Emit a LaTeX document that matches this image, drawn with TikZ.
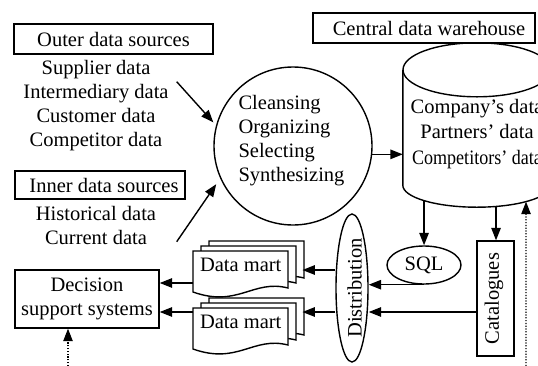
\documentclass[tikz,border=0pt]{standalone}
\usepackage{fontspec}
\setmainfont{Liberation Serif}
\usetikzlibrary{arrows.meta,shapes.geometric,calc}

\tikzset{
  txt/.style={font=\fontsize{20.5}{24}\selectfont, inner sep=0pt},
  line/.style={line width=1.4pt},
  tip/.style={-{Triangle[length=12.5pt,width=9.5pt]}},
  arr/.style={line width=1.4pt, tip},
  dotarr/.style={line width=1.1pt, dash pattern=on 1.2pt off 1.6pt, tip},
  box/.style={txt, draw, line width=1.4pt, rectangle},
  docsheet/.pic={
    \draw[line, fill=white] (0,0) -- (95,0) -- (95,37)
      .. controls (60,28) and (45,57) .. (0,41) -- cycle;
  },
}

\begin{document}
\begin{tikzpicture}[x=1pt,y=-1pt]
\useasboundingbox (0,0) rectangle (538,365);
\clip (0,0) rectangle (538,365);

% data sources
\node[box, minimum width=199pt, minimum height=30pt] (outer) at (113.5,39) {Outer data sources};
\node[txt, align=center] (outerlist) at (96,106) {Supplier data\\Intermediary data\\Customer data\\Competitor data};
\node[box, minimum width=170pt, minimum height=28pt] (inner) at (100,185) {\hspace*{8pt}Inner data sources};
\node[txt, align=center] (innerlist) at (96,225) {Historical data\\Current data};
\coordinate (src1) at (176.7,81.7);
\coordinate (src2) at (176.7,241.7);

% processing circle
\node[draw, circle, line width=1.4pt, minimum size=158pt, inner sep=0pt] (proc) at (293,146) {};
\node[txt, align=left] (proctxt) at (291.5,141) {Cleansing\\Organizing\\Selecting\\Synthesizing};

% central data warehouse
\node[box, minimum width=222pt, minimum height=30pt] (cdw) at (424,28) {\hspace*{10pt}Central data warehouse};
\node[minimum width=148pt, minimum height=115pt, inner sep=0pt] (dw) at (477,127.5) {};
\coordinate (tc) at (dw.north);
\coordinate (bc) at (dw.south);
\draw[line] (tc) ellipse [x radius=74pt, y radius=27pt];
\draw[line] (dw.north west) -- (dw.south west)
  arc[start angle=180, end angle=360, x radius=74pt, y radius=22pt] -- (dw.north east);
\node[txt, align=center, font=\fontsize{20.5}{25.5}\selectfont] (dwtxt) at (477,134)
  {Company's data\\Partners' data\\\scalebox{0.88}[1]{Competitors' data}};
\coordinate (b1) at ($(bc)+(224.3:74pt and 22pt)$);
\coordinate (b2) at ($(bc)+(284.9:74pt and 22pt)$);
\coordinate (b3) at ($(bc)+(311.5:74pt and 22pt)$);

% SQL and catalogues
\node[txt, draw, ellipse, line width=1.4pt, minimum width=74pt, minimum height=38pt] (sql) at (424,265) {SQL};
\node[box, minimum width=37pt, minimum height=115pt] (cat) at (495.5,298.5) {\rotatebox{90}{Catalogues}\hspace*{3pt}};

% distribution
\node[txt, draw, ellipse, line width=1.4pt, minimum width=32pt, minimum height=148pt] (dist) at (352,288) {\hspace*{5pt}\rotatebox{90}{Distribution}};

% data marts
\coordinate (s1) at (193,251);
\coordinate (s2) at (193,308);
\pic at ($(s1)+(16,-10)$) {docsheet};
\pic at ($(s1)+(8,-5)$) {docsheet};
\pic at (s1) {docsheet};
\pic at ($(s2)+(16,-10)$) {docsheet};
\pic at ($(s2)+(8,-5)$) {docsheet};
\pic at (s2) {docsheet};
\node[txt, minimum width=95pt, minimum height=28pt, anchor=north west] (dm1) at (s1) {Data mart};
\node[txt, minimum width=95pt, minimum height=28pt, anchor=north west] (dm2) at (s2) {Data mart};

% decision support
\node[box, minimum width=144pt, minimum height=58pt, align=center] (dss) at (87,299) {Decision\\support systems};

% connectors
\draw[arr, shorten >=4pt] (src1) -- (proc.165);
\draw[arr, shorten >=7pt] (src2) -- (proc.204);
\draw[arr] (proc.-6) -- (proc.-6 -| dw.west);
\draw[arr] (b1) -- (b1 |- sql.north);
\draw[arr] (b2) -- (b2 |- cat.north);
\coordinate (foot3) at (526,366);
\draw[dotarr] (foot3) -- (b3);
\draw[arr] (sql.south) -- (sql.south -| dist.east);
\draw[arr] (cat.west |- 0,312) -- (dist.east |- 0,312);
\draw[arr] (dist.west |- 0,270) -- ($(dm1.east |- 0,270)+(14,0)$);
\draw[arr] (dist.west |- 0,312) -- ($(dm2.east |- 0,312)+(14,0)$);
\draw[arr] (dm1.west |- 0,283) -- (dss.east |- 0,283);
\draw[arr] (dm2.west |- 0,312) -- (dss.east |- 0,312);
\coordinate (foot4) at (68,366);
\draw[dotarr] (foot4) -- (foot4 |- dss.south);
\end{tikzpicture}
\end{document}
